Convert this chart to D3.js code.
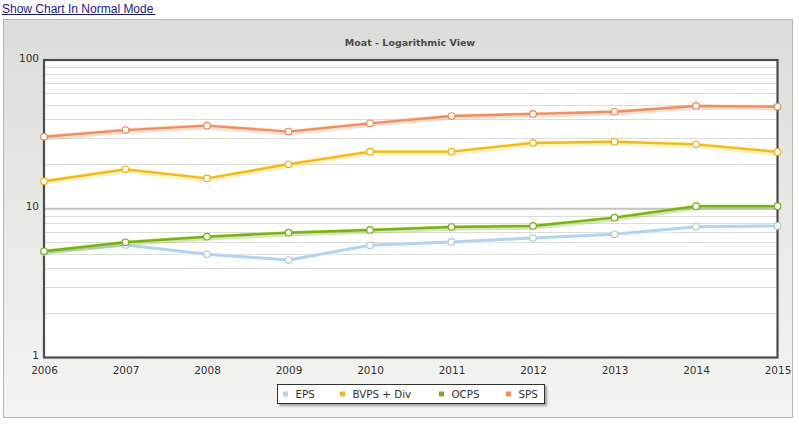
<!DOCTYPE html>
<html><head><meta charset="utf-8">
<script src="https://cdn.jsdelivr.net/npm/d3@7"></script>
<style>
html,body{margin:0;padding:0;background:#fff;}
svg{display:block;}
</style></head>
<body>
<svg id="chart" width="799" height="426"></svg>
<script>
const years = [2006,2007,2008,2009,2010,2011,2012,2013,2014,2015];
const eps  = [5.12,5.71,4.94,4.52,5.68,5.98,6.36,6.73,7.57,7.66];
const bvps = [15.3,18.4,16.0,19.9,24.2,24.2,27.7,28.2,27.1,24.1];
const ocps = [5.18,5.95,6.49,6.90,7.20,7.54,7.66,8.71,10.4,10.4];
const sps  = [30.5,33.8,36.2,33.0,37.5,42.0,43.4,44.9,49.1,48.5];
const seriesNames = ["EPS","BVPS + Div","OCPS","SPS"];
const seriesColors = ["#b7d3ec","#ecb92e","#7dad25","#ea9068"];
const yTicks = [1,10,100];
const title = "Moat - Logarithmic View";
const linkText = "Show Chart In Normal Mode";

const svg = d3.select("#chart");
const font = "DejaVu Sans, Verdana, sans-serif";

// link
svg.append("text").attr("x",2).attr("y",13).attr("font-family","Liberation Sans, Arial, sans-serif")
  .attr("font-size",12).attr("fill","#1c1a8a").text(linkText);
svg.append("line").attr("x1",2).attr("x2",155.5).attr("y1",14.5).attr("y2",14.5)
  .attr("stroke","#1c1a8a").attr("stroke-width",1);

// panel
const defs = svg.append("defs");
const g1 = defs.append("linearGradient").attr("id","bg").attr("x1",0).attr("y1",0).attr("x2",0).attr("y2",1);
g1.append("stop").attr("offset","0%").attr("stop-color","#dcddd8");
g1.append("stop").attr("offset","100%").attr("stop-color","#f4f5f1");
const fl = defs.append("filter").attr("id","sh").attr("x","-10%").attr("y","-20%").attr("width","130%").attr("height","160%");
fl.append("feDropShadow").attr("dx",2).attr("dy",2).attr("stdDeviation",1.2).attr("flood-color","#000").attr("flood-opacity",0.35);

svg.append("rect").attr("x",3.5).attr("y",19.5).attr("width",789).attr("height",398)
  .attr("fill","url(#bg)").attr("stroke","#b4b5b1").attr("stroke-width",1);

const m = {left:44, right:777.5, top:60, bottom:357.5};
const x = d3.scaleLinear().domain([years[0],years[years.length-1]]).range([m.left,m.right]);
const y = d3.scaleLog().domain([1,100]).range([m.bottom,m.top]);

// title
svg.append("text").attr("x",410).attr("y",46).attr("text-anchor","middle")
  .attr("font-family",font).attr("font-weight","bold").attr("font-size",9.5).attr("fill","#4a4a4a").text(title);

// plot bg
svg.append("rect").attr("x",m.left).attr("y",m.top).attr("width",m.right-m.left).attr("height",m.bottom-m.top).attr("fill","#fff");

// grid
const minor = [];
for (let d=1; d<100; d*=10) for (let k=2;k<=9;k++) minor.push(d*k);
svg.append("g").selectAll("line").data(minor).join("line")
  .attr("x1",m.left).attr("x2",m.right)
  .attr("y1",d=>Math.round(y(d))+0.5).attr("y2",d=>Math.round(y(d))+0.5)
  .attr("stroke","#dcdcdc").attr("stroke-width",1);
svg.append("line").attr("x1",m.left).attr("x2",m.right).attr("y1",y(10)).attr("y2",y(10))
  .attr("stroke","#c4c4c4").attr("stroke-width",2);

// axes labels
const yAxis = d3.axisLeft(y).tickValues(yTicks).tickFormat(d3.format("d")).tickSize(0).tickPadding(5);
const ya = svg.append("g").attr("transform",`translate(${m.left},0)`).call(yAxis);
ya.select(".domain").remove();
ya.selectAll("text").attr("font-family",font).attr("font-size",10.5).attr("fill","#333").attr("dy","0.1em");

const xAxis = d3.axisBottom(x).tickValues(years).tickFormat(d3.format("d")).tickSize(0).tickPadding(9);
const xa = svg.append("g").attr("transform",`translate(0,${m.bottom})`).call(xAxis);
xa.select(".domain").remove();
xa.selectAll("text").attr("font-family",font).attr("font-size",10.5).attr("fill","#333");

// frame
svg.append("rect").attr("x",m.left).attr("y",m.top).attr("width",m.right-m.left).attr("height",m.bottom-m.top)
  .attr("fill","none").attr("stroke","#4c4c4c").attr("stroke-width",2.2);

// series
const data = [eps,bvps,ocps,sps];
const line = d3.line().x((d,i)=>x(years[i])).y(d=>y(d));
data.forEach((vals,si)=>{
  const c = seriesColors[si];
  const gg = svg.append("g");
  gg.append("path").datum(vals).attr("d",line).attr("fill","none")
    .attr("stroke",d3.color(c).brighter(0.6)).attr("stroke-opacity",0.45).attr("stroke-width",5.5)
    .attr("transform","translate(0,1)");
  gg.append("path").datum(vals).attr("d",line).attr("fill","none")
    .attr("stroke",c).attr("stroke-width",si===0?3:2.4).attr("stroke-linejoin","round");
  gg.selectAll("circle").data(vals).join("circle")
    .attr("cx",(d,i)=>x(years[i])).attr("cy",d=>y(d)).attr("r",3.3)
    .attr("fill","#fffdea").attr("stroke",d3.color(c).darker(0.15)).attr("stroke-width",1.1);
});

// legend
const lg = svg.append("g");
lg.append("rect").attr("x",277.5).attr("y",384.5).attr("width",267).attr("height",19)
  .attr("fill","#fff").attr("stroke","#333").attr("stroke-width",1).attr("filter","url(#sh)");
const lx = [283,340,439,506];
seriesNames.forEach((n,i)=>{
  lg.append("rect").attr("x",lx[i]).attr("y",391.5).attr("width",5).attr("height",5).attr("fill",seriesColors[i]);
  lg.append("text").attr("x",lx[i]+12.5).attr("y",398).attr("font-family",font).attr("font-size",10.3)
    .attr("fill","#333").text(n);
});
</script>
</body></html>
